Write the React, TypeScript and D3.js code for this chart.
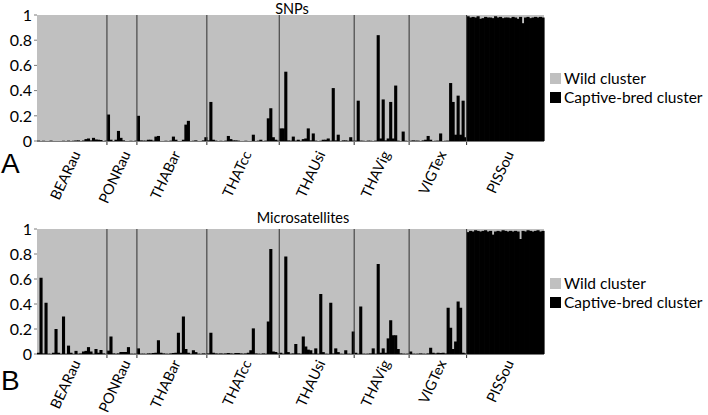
import React from "react";
import * as d3 from "d3";

const groups = ["BEARau", "PONRau", "THABar", "THATcc", "THAUsi", "THAVig", "VIGTex", "PISSou"];

// SNPs: proportion of membership in the captive-bred cluster, per individual
const snpBEARau = [0.003,0,0.002,0,0,0.003,0,0,0,0,0.002,0,0.003,0,0.002,0.004,0.005,0,0.004,0.015,0.02,0.005,0.025,0.012,0.01,0.008,0,0.003];
const snpPONRau = [0.21,0.01,0,0.01,0.08,0.025,0.005,0,0,0.002,0,0.003];
const snpTHABar = [0.2,0.005,0.003,0.003,0.01,0.01,0.003,0.035,0.04,0,0,0.002,0,0.003,0.035,0.01,0,0,0.01,0.13,0.16,0,0.002,0.005,0,0,0.005,0.03];
const snpTHATcc = [0.005,0.31,0.01,0.003,0,0.002,0,0.003,0.04,0.015,0.005,0.005,0.003,0,0,0.002,0,0,0.05,0,0.003,0.01,0,0.003,0.18,0.26,0.03,0.01,0.003];
const snpTHAUsi = [0.1,0.1,0.55,0.005,0.003,0.035,0.003,0.01,0.002,0.015,0.02,0.1,0.005,0.06,0.003,0,0.002,0.01,0.01,0.02,0.003,0.42,0.005,0.05,0,0.005,0.005,0.002,0.03,0.003];
const snpTHAVig = [0.003,0.32,0.003,0.002,0,0.003,0.002,0,0.003,0.84,0.02,0.33,0.005,0.02,0.31,0.02,0.44,0.003,0,0.075,0.002,0];
const snpVIGTex = [0.002,0.005,0.003,0.003,0,0.005,0.01,0.04,0.01,0,0.002,0.003,0.06,0,0.002,0.003,0.46,0.31,0.05,0.36,0.05,0.32,0.03];
const snpPISSou = [0.99,0.98,0.985,0.98,0.99,0.97,0.975,0.985,0.98,0.98,0.975,0.99,0.98,0.985,0.975,0.98,0.98,0.975,0.985,0.98,0.97,0.985,0.935,0.98,0.985,0.975,0.98,0.985,0.98,0.985,0.98];

// Microsatellites
const msBEARau = [0.01,0.61,0.005,0.41,0.003,0.002,0.01,0.2,0.01,0.003,0.3,0.003,0.067,0.01,0.002,0.025,0.003,0.005,0.02,0.025,0.055,0.02,0.003,0.04,0.01,0.032,0.005,0.002];
const msPONRau = [0.027,0.14,0.005,0.003,0.005,0.016,0.016,0.016,0.055,0.003,0.002,0.003];
const msTHABar = [0.045,0.003,0.003,0.002,0.005,0.005,0.008,0.01,0.11,0.01,0.005,0.003,0.002,0.005,0.008,0.01,0.17,0.01,0.3,0.04,0.01,0.003,0.03,0.015,0.003,0.002,0.005,0.003];
const msTHATcc = [0.005,0.17,0.01,0.005,0.003,0.005,0.003,0.005,0.008,0.005,0.003,0.008,0.008,0.005,0.003,0.005,0.01,0.03,0.205,0.005,0.003,0.002,0.005,0.003,0.26,0.84,0.02,0.016,0.005];
const msTHAUsi = [0.01,0.003,0.78,0.015,0.003,0.005,0.08,0.005,0.003,0.14,0.06,0.035,0.03,0.005,0.045,0.003,0.48,0.015,0.003,0.002,0.41,0.005,0.045,0.015,0.003,0.002,0.03,0.003,0.002,0.18];
const msTHAVig = [0.01,0.003,0.38,0.003,0.002,0.003,0.005,0.045,0.003,0.72,0.01,0.045,0.01,0.125,0.27,0.15,0.15,0.04,0.005,0.003,0.002,0.003];
const msVIGTex = [0.02,0.003,0.002,0.003,0.005,0.003,0.002,0.005,0.05,0.01,0.005,0.01,0.008,0.01,0.005,0.37,0.21,0.04,0.1,0.42,0.37,0.01,0.005];
const msPISSou = [0.975,0.985,0.98,0.99,0.985,0.98,0.985,0.99,0.98,0.985,0.955,0.98,0.985,0.98,0.99,0.985,0.98,0.985,0.98,0.985,0.98,0.92,0.985,0.98,0.99,0.985,0.98,0.985,0.99,0.98,0.985];

const snpGroups = [snpBEARau, snpPONRau, snpTHABar, snpTHATcc, snpTHAUsi, snpTHAVig, snpVIGTex, snpPISSou];
const msGroups = [msBEARau, msPONRau, msTHABar, msTHATcc, msTHAUsi, msTHAVig, msVIGTex, msPISSou];

const yTicks = [0, 0.2, 0.4, 0.6, 0.8, 1];
const legendLabels = ["Wild cluster", "Captive-bred cluster"];
const panelTitles = ["SNPs", "Microsatellites"];
const panelLetters = ["A", "B"];

const WILD = "#c0c0c0";
const CAPTIVE = "#000000";
const FONT = "Lato, 'Open Sans', sans-serif";

const LEFT = 37;
const RIGHT = 544;

type PanelProps = {
  data: number[][];
  top: number;
  bottom: number;
  title: string;
  titleX: number;
  titleY: number;
  letter: string;
  letterY: number;
  legendY: number;
  labelGap: number;
};

function Panel({ data, top, bottom, title, titleX, titleY, letter, letterY, legendY, labelGap }: PanelProps) {
  const sizes = data.map((g) => g.length);
  const total = d3.sum(sizes);
  const starts = sizes.map((_, i) => d3.sum(sizes.slice(0, i)));
  const x = d3.scaleLinear().domain([0, total]).range([LEFT, RIGHT]);
  const y = d3.scaleLinear().domain([0, 1]).range([bottom, top]);
  const bw = x(1) - x(0);
  const flat: { i: number; v: number }[] = [];
  data.forEach((g, gi) => g.forEach((v, k) => flat.push({ i: starts[gi] + k, v })));
  const boundaries = starts.slice(1);

  return (
    <g>
      <rect x={LEFT} y={top} width={RIGHT - LEFT} height={bottom - top} fill={WILD} />
      {flat.map((d) => (
        <rect
          key={d.i}
          x={x(d.i)}
          y={y(d.v)}
          width={bw + 0.6}
          height={Math.max(0, y(0) - y(d.v))}
          fill={CAPTIVE}
        />
      ))}
      {boundaries.map((b) => (
        <line key={"s" + b} x1={x(b)} x2={x(b)} y1={top} y2={bottom + 4} stroke="#3c3c3c" strokeWidth={1.1} />
      ))}
      <line x1={LEFT} x2={RIGHT} y1={bottom + 0.5} y2={bottom + 0.5} stroke="#7a7a7a" strokeWidth={1} />
      {yTicks.map((t) => (
        <g key={"t" + t}>
          <line x1={LEFT - 3} x2={LEFT} y1={y(t)} y2={y(t)} stroke="#7a7a7a" strokeWidth={1} />
          <text x={32} y={y(t)} dy="0.36em" textAnchor="end" fontFamily={FONT} fontSize={16} fill="#000">
            {String(t)}
          </text>
        </g>
      ))}
      <text x={titleX} y={titleY} textAnchor="middle" fontFamily={FONT} fontSize={14.5} fill="#000">
        {title}
      </text>
      {groups.map((name, gi) => {
        const cx = x(starts[gi] + sizes[gi] / 2) + 9;
        const cy = bottom + labelGap;
        return (
          <text
            key={name}
            transform={`translate(${cx},${cy}) rotate(-65)`}
            textAnchor="end"
            fontFamily={FONT}
            fontSize={14.5}
            fill="#000"
          >
            {name}
          </text>
        );
      })}
      <text x={1} y={letterY} fontFamily="'Liberation Sans', Arial, sans-serif" fontSize={28} fill="#000">
        {letter}
      </text>
      {legendLabels.map((lab, li) => (
        <g key={lab}>
          <rect x={550} y={legendY + li * 19} width={11} height={11} fill={li === 0 ? WILD : CAPTIVE} />
          <text x={564} y={legendY + li * 19 + 5.5} dy="0.36em" fontFamily={FONT} fontSize={15.5} fill="#000">
            {lab}
          </text>
        </g>
      ))}
    </g>
  );
}

export default function App() {
  return (
    <svg width={708} height={415} style={{ display: "block", position: "absolute", left: 0, top: 0, background: "#fff" }}>
      <Panel data={snpGroups} top={15} bottom={141} title={panelTitles[0]} titleX={292} titleY={13.5} letter={panelLetters[0]} letterY={173} legendY={73} labelGap={13} />
      <Panel data={msGroups} top={229} bottom={354} title={panelTitles[1]} titleX={303} titleY={223} letter={panelLetters[1]} letterY={390} legendY={278} labelGap={9} />
    </svg>
  );
}
